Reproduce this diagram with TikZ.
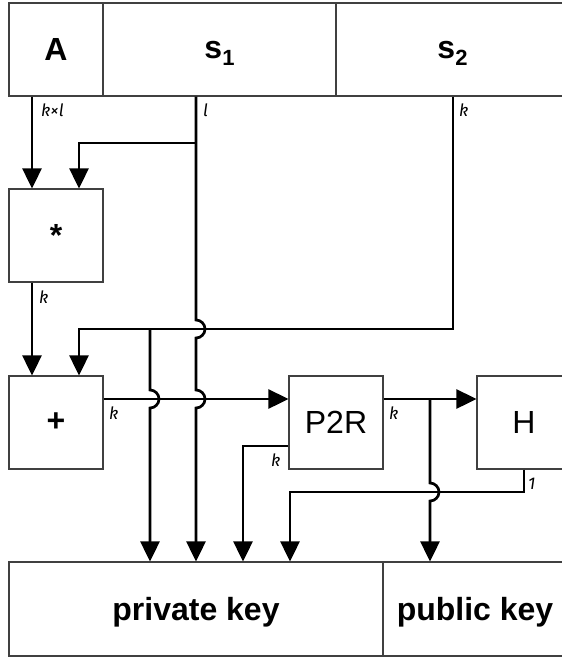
\documentclass[tikz,border=0pt]{standalone}
\usepackage{fontspec}
\setmainfont{Liberation Sans}
\newfontfamily\labfont{Fira Sans}
\usetikzlibrary{arrows.meta,calc}
\begin{document}
\begin{tikzpicture}[x=1pt,y=-1pt,
  box/.style={draw=black!75,line width=1.1pt,rectangle,inner sep=0pt,
    minimum height=93pt,text depth=0pt,font=\fontsize{32}{36}\selectfont},
  bbox/.style={box,font=\fontsize{32}{36}\selectfont\bfseries},
  conn/.style={line width=2.7pt,-{Triangle[length=20pt,width=19pt]}},
  lab/.style={anchor=west,inner sep=0pt,font=\labfont\itshape\fontsize{17}{17}\selectfont}]
\useasboundingbox (0,0) rectangle (562,659);
\clip (0,0) rectangle (562,659);
% boxes
\node[bbox,minimum width=94pt] (A) at (56,49.5) {A};
\node[bbox,minimum width=233pt] (s1) at (219.5,49.5) {s\raisebox{-7pt}{\fontsize{22}{22}\selectfont 1}};
\node[bbox,minimum width=233pt] (s2) at (452.5,49.5) {s\raisebox{-7pt}{\fontsize{22}{22}\selectfont 2}};
\node[bbox,minimum width=94pt] (mul) at (56,235.5) {*};
\node[bbox,minimum width=94pt] (add) at (56,422.5) {+};
\node[box,minimum width=94pt] (p2r) at (336,422.5) {P2R};
\node[box,minimum width=94pt] (H) at (524,422.5) {H};
\node[bbox,minimum width=374pt,minimum height=94pt] (priv) at (196,609) {private key};
\node[bbox,minimum width=184pt,minimum height=94pt] (pub) at (475,609) {public key};
% guide coordinates
\coordinate (xa) at (32,0);
\coordinate (j1) at (196,143);
\coordinate (b1) at (79,143);
\coordinate (b2) at (453,329);
\coordinate (b3) at (79,329);
\coordinate (j2) at (150,329);
\coordinate (k1) at (196,329);
\coordinate (k2) at (150,399);
\coordinate (k3) at (196,399);
\coordinate (j3) at (430,399);
\coordinate (k4) at (430,492);
\coordinate (b4) at (243,446);
\coordinate (b5) at (524,492);
\coordinate (b6) at (290,492);
% connectors
\draw[conn] (A.south -| xa) -- (mul.north -| xa);
\draw[conn] (s1.south -| k1) -- ($(k1)+(0,-9)$) arc[start angle=90,end angle=-90,radius=9pt]
  -- ($(k3)+(0,-9)$) arc[start angle=90,end angle=-90,radius=9pt] -- (priv.north -| k1);
\draw[conn] (j1) -- (b1) -- (mul.north -| b1);
\draw[conn] (s2.south -| b2) -- (b2) -- (b3) -- (add.north -| b3);
\draw[conn] (j2) -- ($(k2)+(0,-9)$) arc[start angle=90,end angle=-90,radius=9pt] -- (priv.north -| j2);
\draw[conn] (mul.south -| xa) -- (add.north -| xa);
\draw[conn] (add.east |- k2) -- (p2r.west |- k2);
\draw[conn] (p2r.west |- b4) -- (b4) -- (priv.north -| b4);
\draw[conn] (p2r.east |- k2) -- (H.west |- k2);
\draw[conn] (j3) -- ($(k4)+(0,-9)$) arc[start angle=90,end angle=-90,radius=9pt] -- (pub.north -| j3);
\draw[conn] (H.south) -- (b5) -- (b6) -- (priv.north -| b6);
% labels
\node[lab] (l1) at (41,110) {k×l};
\node[lab] (l2) at (203,110) {l};
\node[lab] (l3) at (459,110) {k};
\node[lab] (l4) at (39,297) {k};
\node[lab] (l5) at (109,413) {k};
\node[lab] (l6) at (271,460) {k};
\node[lab] (l7) at (389,413) {k};
\node[lab] (l8) at (528,484) {1};
\end{tikzpicture}
\end{document}
